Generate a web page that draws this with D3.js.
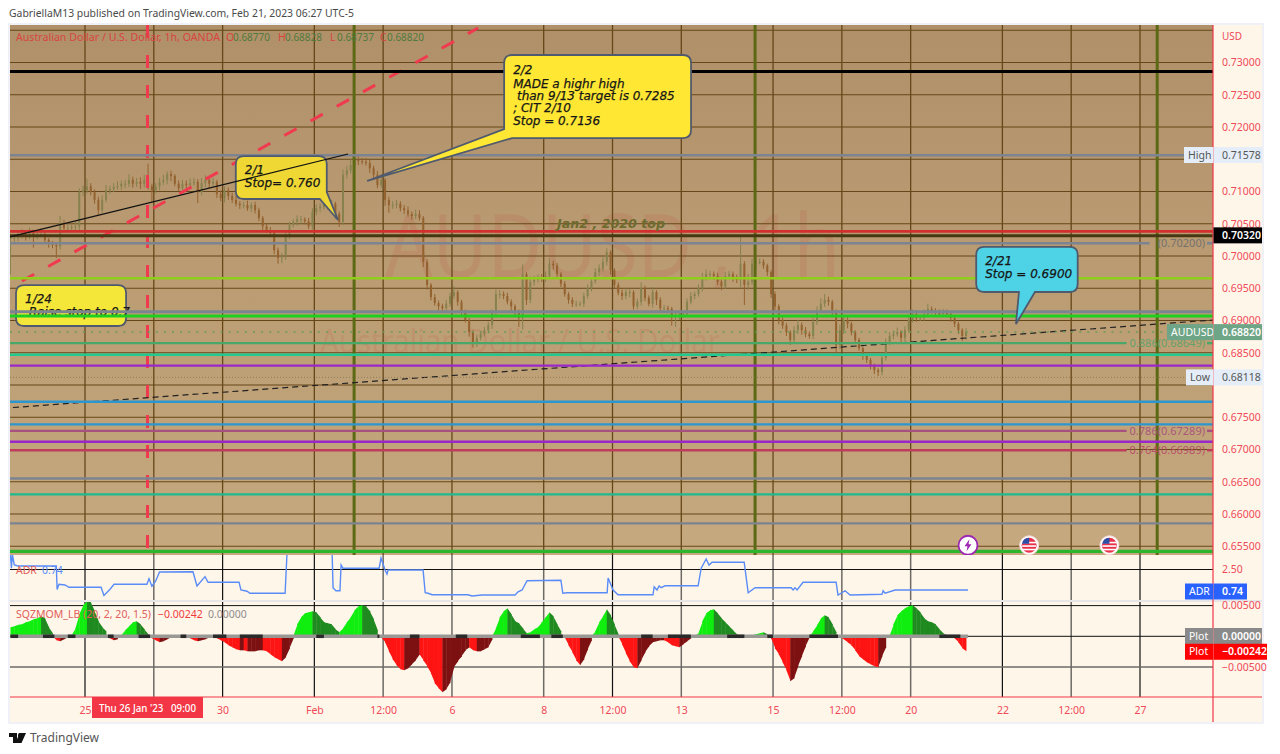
<!DOCTYPE html>
<html><head><meta charset="utf-8">
<script src="https://cdn.jsdelivr.net/npm/d3@7"></script>
<style>html,body{margin:0;padding:0;background:#fff}svg{display:block}text{font-family:"Noto Sans",sans-serif}</style>
</head><body><div id="c"></div>
<script>
// ---------- DATA ----------
const startHour=-39, stepHours=2;
const closes=[
7028,7028,7031,7033,7031,7036,7031,7033,7034,7025,
7020,7017,7015,7050,7043,7043,7045,7046,7099,7102,
7108,7099,7087,7071,7087,7102,7104,7107,7108,7112,
7112,7118,7112,7115,7112,7118,7108,7102,7108,7115,
7118,7127,7124,7112,7105,7112,7110,7113,7115,7099,
7113,7118,7112,7115,7096,7090,7102,7093,7087,7081,
7079,7079,7074,7079,7071,7059,7046,7040,7036,7009,
6997,7000,7031,7048,7053,7057,7057,7054,7046,7068,
7074,7076,7081,7077,7081,7065,7053,7126,7133,7141,
7149,7147,7146,7144,7136,7126,7110,7118,7087,7079,
7079,7081,7074,7071,7065,7062,7065,7059,6991,6955,
6936,6927,6922,6919,6926,6938,6944,6929,6913,6901,
6882,6864,6873,6879,6885,6893,6913,6941,6941,6938,
6929,6922,6913,6904,6972,6932,6960,6963,6966,6965,
6969,6988,6985,6972,6957,6941,6932,6926,6926,6926,
6938,6950,6961,6975,6981,6991,7006,6978,6955,6943,
6938,6944,6944,6922,6929,6950,6935,6926,6944,6932,
6919,6919,6918,6907,6907,6909,6910,6929,6938,6941,
6950,6966,6972,6972,6969,6960,6953,6969,6972,6966,
6963,6988,6955,6960,6988,6991,6991,6985,6975,6941,
6922,6901,6892,6882,6870,6885,6893,6885,6879,6876,
6898,6916,6926,6932,6929,6913,6862,6885,6901,6895,
6882,6870,6857,6845,6839,6829,6823,6820,6842,6867,
6876,6879,6882,6873,6885,6901,6910,6904,6904,6910,
6918,6915,6912,6910,6913,6910,6904,6895,6885,6876,
6882];
const wickUp=[
6,5,7,9,6,8,5,6,9,4,
3,3,4,12,6,7,5,8,6,7,
12,5,4,5,7,8,5,6,8,5,
6,9,5,6,7,8,25,4,5,6,
8,4,5,3,5,6,5,7,6,4,
8,7,5,6,3,6,6,4,5,6,
4,5,7,4,5,4,3,4,5,3,
4,5,6,5,4,6,5,3,5,6,
6,5,7,5,6,3,4,8,7,9,
6,8,5,6,5,4,6,9,3,5,
6,6,4,5,6,4,7,6,3,4,
3,5,4,4,6,5,9,3,3,4,
3,3,5,4,5,5,4,7,6,4,
5,4,3,4,15,3,8,6,5,6,
7,8,5,4,3,4,3,4,5,4,
5,6,5,6,6,7,6,3,3,4,
5,6,4,3,5,9,4,4,8,3,
4,5,4,3,5,4,5,5,6,4,
6,8,7,5,4,5,4,6,5,4,
5,42,4,12,8,6,5,4,3,3,
4,3,4,4,3,6,8,4,5,4,
6,6,8,9,5,3,4,9,7,5,
3,3,3,3,3,3,4,3,5,5,
6,5,7,3,6,8,7,6,5,7,
8,4,4,5,5,4,3,3,3,3,
6];
const wickDown=[
57,6,5,4,7,5,18,5,4,6,
7,5,18,5,7,4,6,5,8,6,
5,5,6,8,5,4,6,5,4,6,
7,5,6,5,8,6,5,20,5,6,
5,7,8,4,5,7,6,5,4,17,
5,6,7,4,6,5,7,6,5,4,
6,5,4,6,5,5,6,4,5,6,
9,8,6,5,4,6,7,5,4,5,
5,6,4,5,6,7,8,5,6,5,
5,6,4,4,7,6,5,4,9,12,
6,5,5,6,4,6,5,4,8,7,
5,4,6,5,4,5,4,6,5,4,
7,6,5,4,4,5,6,8,7,5,
4,7,6,14,18,8,5,6,4,5,
5,4,6,5,5,4,6,5,5,4,
5,4,5,4,6,5,6,7,5,4,
6,5,8,5,4,6,5,4,6,8,
5,4,6,15,17,6,5,4,4,5,
4,5,4,4,6,5,6,4,5,6,
5,12,31,7,5,8,4,5,6,6,
6,7,5,6,8,5,6,7,5,4,
5,5,4,5,6,8,17,6,6,7,
5,4,4,6,5,5,6,6,5,4,
5,5,4,7,5,4,4,6,5,4,
4,4,5,4,5,4,6,5,6,8,
6];
const momentum=[
147,163,187,196,228,245,277,293,326,293,
147,49,-65,-82,-49,-16,16,130,359,505,
571,554,408,245,147,82,-33,-65,-49,16,
98,163,228,245,196,114,33,-33,-65,-98,
-82,-49,-16,16,16,8,-16,-33,-65,-82,
-65,-49,-16,8,-33,-65,-98,-147,-179,-212,
-228,-228,-245,-245,-245,-228,-228,-245,-293,-342,
-375,-408,-342,-196,-33,196,310,375,391,408,
391,310,228,212,196,114,65,130,228,310,
424,489,505,489,408,277,98,-16,-98,-245,
-375,-473,-538,-554,-522,-456,-391,-293,-391,-489,
-603,-766,-848,-913,-864,-750,-505,-408,-326,-228,
-179,-228,-245,-245,-212,-179,-49,130,310,408,
456,359,245,212,130,49,65,114,147,228,
310,391,326,196,82,-16,-147,-261,-391,-473,
-375,-212,-65,82,228,326,440,342,196,33,
-130,-277,-408,-505,-522,-391,-261,-163,-98,-82,
-65,-65,-98,-147,-163,-179,-130,-82,-33,8,
49,245,375,424,440,375,293,228,163,98,
33,16,-8,-16,16,33,49,65,33,-33,
-196,-293,-424,-554,-734,-685,-489,-326,-163,-16,
82,179,293,342,310,196,65,-16,-49,-98,
-147,-228,-326,-375,-424,-456,-489,-505,-326,-179,
8,196,342,408,456,489,505,456,391,293,
245,228,196,114,49,16,-16,-33,-98,-196,
-242];
const squeezeRanges=[[-39,-35],[-22,-16],[-9,-5],[12,15],[28,34],[50,53],[67,74],[81,93],[121,125],[153,154],[170,175],[194,200],[228,238],[244,250],[291,297],[305,317],[336,345],[357,360],[379,394],[447,458]];
const adrHours=[-39,-38.5,-38,-37,-35,-15,-14.6,-13.6,-10.5,-8.4,8.4,9.9,13,15.2,32.4,33.5,35,37,39,56.5,58.6,62.8,64.4,80.6,81.6,84.8,86.3,104.7,105.7,129.3,129.8,131.3,133.4,134,135,153.9,154.9,157,158,158.6,176.9,178,179.5,181.6,200.4,202.5,207.8,225,226.6,228.7,231.3,249,250,252.2,273.2,273.7,276.3,278.9,297.2,297.8,299.3,300.4,301.4,303.5,320.8,322.4,325,326.5,328.1,344.9,347,350.6,369.5,370.5,371.5,372.6,375.7,393,394,397.7,400.3,417,417.6,418.6,423.9,462];
const adrValues=[3.7,2.6,3.7,2.86,2.78,2.78,0.9,1.32,1.26,1.08,1.08,0.42,0.9,1.32,1.32,1.77,1.16,1.58,2.3,2.32,1.18,1.93,1.48,1.48,0.86,0.76,0.6,0.6,3.8,3.8,1.02,0.8,0.8,2.86,2.6,2.6,3.42,2.46,2.14,2.46,2.46,0.64,0.6,0.48,0.48,0.38,0.46,0.46,0.72,0.86,1.6,1.64,0.6,0.64,0.64,1.82,0.86,0.48,0.48,1.12,0.86,1.18,1.04,1.2,1.2,2.6,3.34,2.86,3.08,3.08,0.64,1.04,1.04,0.86,1.04,0.86,1.48,1.48,0.46,0.8,0.46,0.52,0.8,0.6,0.86,0.86];
const levelPrices=[0.7286,0.71562,0.70383,0.70315,0.70198,0.69654,0.69136,0.6907,0.68649,0.6847,0.683,0.67741,0.6739,0.67289,0.67121,0.66989,0.6655,0.66305,0.65855,0.6542];
const levelColors=["#000","#7c8391","#d32f2f","#463812","#7c8391","#8fce1a","#7c8391","#1fcf1f","#47a86a","#1fc98f","#9a27c9","#2d96cf","#2d96cf","#a8507e","#9a27c9","#bd3d5a","#7c8391","#1fb98f","#7c8391","#2db52d"];
const levelWidths=[3,2.6,2.8,3,2.6,2.4,2.8,2.8,2.4,2.4,2.4,2.4,2.4,2.4,2.4,2.4,2.4,2.4,2.4,3.2];
const fibLevels=[0.70198,0.68649,0.67289,0.66989];
const fibLabels=["(0.70200)","0.886(0.68649)","0.786(0.67289)","0.764(0.66989)"];
const fibColors=["#6f6f6f","#5da06a","#a8507e","#b84a68"];
const priceTicks=[0.73,0.725,0.72,0.715,0.71,0.705,0.70,0.695,0.69,0.685,0.68,0.675,0.67,0.665,0.66,0.655];
const hiddenPriceTicks=[0.715,0.68];
const timeTickHours=[0,36,72,120,156,192,240,276,312,360,396,432,480,516,552];
const timeTickLabels=["25","","30","Feb","12:00","6","8","12:00","13","15","12:00","20","22","12:00","27"];
const lowerGridGrey=[36,156,192,240,312,360,396,432,516];
const cycleHours=[140.8,350.6,561];
const crossHour=32.7;
const eventHours=[462,494,536];
const priceHigh=0.71578, priceLow=0.68118, priceLast=0.6882, priceBlack=0.7032;
const trendSolid=[[-39.2,0.70295],[137.6,0.71581]];
const trendRed=[[-33,0.69612],[205.7,0.73535]];
const trendDash=[[-37.7,0.67651],[590.4,0.69008]];
const notes=[
 {h0:-36.1,h1:21.5,p0:0.6955,p1:0.68915,fill:"#f5e63a",lines:["1/24"," Raise stop to 0.7"]},
 {h0:78.9,h1:126.5,p0:0.7155,p1:0.70884,fill:"#efd834",tip:[132.4,0.70558],lines:["2/1","Stop= 0.760"]},
 {h0:219.3,h1:317.1,p0:0.73116,p1:0.71829,fill:"#ffe733",tip:[147.6,0.71163],lines:["2/2","MADE a highr high"," than 9/13 target is 0.7285","; CIT 2/10","Stop = 0.7136"]},
 {h0:466.3,h1:519.4,p0:0.7014,p1:0.69442,fill:"#4dd2e6",tip:[487.1,0.68946],lines:["2/21","Stop = 0.6900"]}
];
// ---------- SCALES ----------
const W=1280,H=754,L=10,R=1213,TOP=25,MAINB=555,ADRB=601,MOMB=697,AXB=722,RE=1262;
const x=d3.scaleLinear([0,552],[85,1140]);
const y=d3.scaleLinear([0.655,0.73],[546.25,62.5]);
const ya=d3.scaleLinear([0.74,2.5],[591.5,569.5]);
const ym=d3.scaleLinear([-0.005,0.005],[667,605.6]);
const svg=d3.select("#c").append("svg").attr("width",W).attr("height",H);
const defs=svg.append("defs");
const g=defs.append("linearGradient").attr("id","bg").attr("x1",0).attr("x2",0).attr("y1",0).attr("y2",1);
g.append("stop").attr("offset",0).attr("stop-color","#b09069");
g.append("stop").attr("offset",1).attr("stop-color","#c6a97e");
const clip=(id,a,b,c,d)=>defs.append("clipPath").attr("id",id).append("rect").attr("x",a).attr("y",b).attr("width",c-a).attr("height",d-b);
clip("cm",L,TOP,R,MAINB);clip("ca",L,MAINB,R,ADRB);clip("cs",L,ADRB,R,MOMB);
const rect=(p,a,b,c,d,f)=>p.append("rect").attr("x",a).attr("y",b).attr("width",c-a).attr("height",d-b).attr("fill",f);
const seg=(p,a,b,c,d,col,w)=>p.append("line").attr("x1",a).attr("y1",b).attr("x2",c).attr("y2",d).attr("stroke",col).attr("stroke-width",w);
const txt=(p,s,a,b,size,col,anchor)=>p.append("text").text(s).attr("x",a).attr("y",b).attr("font-size",size).attr("fill",col).attr("text-anchor",anchor||"start");
// frame
rect(svg,8,23,1264,724,"#eff1f6");
rect(svg,L,TOP,RE,AXB,"#fff6ea");
rect(svg,L,TOP,R,MAINB,"url(#bg)");
// watermark
const main=svg.append("g").attr("clip-path","url(#cm)");
txt(main,"AUDUSD , 1h",385,277,88,"rgba(190,95,75,0.2)").attr("textLength",455).attr("lengthAdjust","spacingAndGlyphs");
txt(main,"Australian Dollar / U.S. Dollar",320,353,32,"rgba(190,95,75,0.2)").attr("textLength",400).attr("lengthAdjust","spacingAndGlyphs");
// grids
const GM="#654719";
[0.735].concat(priceTicks).forEach(p=>seg(main,L,y(p),R,y(p),GM,1.1));
timeTickHours.forEach(h=>seg(main,x(h),TOP,x(h),MAINB,GM,1.3));
function drawNote(n,host){
 const a=x(n.h0),b=x(n.h1),t=y(n.p0),d=y(n.p1),r=8;
 let path;
 if(!n.tip){path=`M${a+r},${t}H${b-r}Q${b},${t} ${b},${t+r}V${d-r}Q${b},${d} ${b-r},${d}H${a+r}Q${a},${d} ${a},${d-r}V${t+r}Q${a},${t} ${a+r},${t}Z`;}
 else{
  const tx=x(n.tip[0]),ty=y(n.tip[1]);
  if(tx<a){ // tail leaves bottom-left corner
   path=`M${a+r},${t}H${b-r}Q${b},${t} ${b},${t+r}V${d-r}Q${b},${d} ${b-r},${d}H${a+8}L${tx},${ty}L${a},${d-9}V${t+r}Q${a},${t} ${a+r},${t}Z`;
  } else if(tx>b){ // tail leaves bottom-right corner
   path=`M${a+r},${t}H${b-r}Q${b},${t} ${b},${t+r}V${d-7}L${tx},${ty}L${b-7},${d}H${a+r}Q${a},${d} ${a},${d-r}V${t+r}Q${a},${t} ${a+r},${t}Z`;
  } else { // tail leaves the bottom edge
   path=`M${a+r},${t}H${b-r}Q${b},${t} ${b},${t+r}V${d-r}Q${b},${d} ${b-r},${d}H${tx+19}L${tx},${ty}L${tx+3},${d}H${a+r}Q${a},${d} ${a},${d-r}V${t+r}Q${a},${t} ${a+r},${t}Z`;
  }
 }
 host.append("path").attr("d",path).attr("fill",n.fill).attr("stroke","#505a6e").attr("stroke-width",1.8);
 const big=n.lines.length>2;
 n.lines.forEach((s,i)=>{
  const tY=big?(i==0?t+19:t+33+(i-1)*12.2):t+18+i*13;
  host.append("text").text(s).attr("xml:space","preserve").style("white-space","pre").attr("x",a+9).attr("y",tY)
   .attr("font-size",12).attr("font-style","italic").attr("fill","#161616")
   .style("font-family","'DejaVu Sans',sans-serif").style("font-weight",500)
   .attr("stroke","#161616").attr("stroke-width",0.25);
 });
}
drawNote(notes[0],main);
// candles
const candles=closes.map((c,i)=>{
 const o=i?closes[i-1]:c;
 return {h:startHour+i*stepHours,o:o/1e4,c:c/1e4,hi:(Math.max(o,c)+wickUp[i])/1e4,lo:(Math.min(o,c)-wickDown[i])/1e4};
});
const cg=main.append("g");
cg.selectAll("line").data(candles).join("line").attr("x1",d=>x(d.h)).attr("x2",d=>x(d.h)).attr("y1",d=>y(d.hi)).attr("y2",d=>y(d.lo))
 .attr("stroke",d=>d.c>=d.o?"#87824d":"#94622f").attr("stroke-width",1);
cg.selectAll("rect").data(candles).join("rect").attr("x",d=>x(d.h)-1).attr("width",2).attr("y",d=>y(Math.max(d.o,d.c))).attr("height",d=>Math.max(1,Math.abs(y(d.o)-y(d.c))))
 .attr("fill",d=>d.c>=d.o?"#87824d":"#94622f");
// vertical events
cycleHours.forEach(h=>seg(main,x(h),TOP,x(h),MAINB,"#5c6914",3));
seg(main,x(crossHour),TOP,x(crossHour),MAINB,"#f03a50",3).attr("stroke-dasharray","13 17");
const line=d3.line().x(d=>x(d[0])).y(d=>y(d[1]));
main.append("path").attr("d",line(trendRed)).attr("stroke","#f03a50").attr("stroke-width",3).attr("fill","none").attr("stroke-dasharray","14 16");
main.append("path").attr("d",line(trendDash)).attr("stroke","#222").attr("stroke-width",1.2).attr("fill","none").attr("stroke-dasharray","6 4");
// levels
const fibEnd=x(545);
levelPrices.forEach((p,i)=>{
 const k=fibLevels.indexOf(p);
 if(k<0) seg(main,L,y(p),R,y(p),levelColors[i],levelWidths[i]);
 else{
  seg(main,L,y(p),k==0?x(557):fibEnd,y(p),levelColors[i],levelWidths[i]);
  seg(main,1207,y(p),R,y(p),levelColors[i],levelWidths[i]);
 }
});
seg(main,L,y(priceLast),R,y(priceLast),"#6a9a5a",2).attr("stroke-dasharray","2 6.1").attr("opacity",.75);
seg(main,L,y(priceLow),R,y(priceLow),"#7d6a4a",1).attr("stroke-dasharray","1 2").attr("opacity",.7);
// fib labels
fibLabels.forEach((s,i)=>txt(main,s,1205,y(fibLevels[i])+4,11,fibColors[i],"end").attr("opacity",.9));
// text label
main.append("text").text("Jan2 , 2020 top").attr("x",557).attr("y",228).attr("font-size",12.5).attr("font-style","italic").attr("font-weight","bold").style("font-family","'DejaVu Sans',sans-serif").attr("fill","#6d6b2e").attr("textLength",108).attr("lengthAdjust","spacingAndGlyphs");
// notes on top
drawNote(notes[1],main);drawNote(notes[2],main);drawNote(notes[3],main);
main.append("path").attr("d",line(trendSolid)).attr("stroke","#111").attr("stroke-width",1.2).attr("fill","none");
// event icons
eventHours.forEach((h,i)=>{
 const c=main.append("g").attr("transform",`translate(${x(h)},${y(0.655)-1})`);
 c.append("circle").attr("r",9.5).attr("fill","#fff").attr("stroke",i==0?"#9c27b0":"#f2d8d8").attr("stroke-width",i==0?1.8:1);
 if(i==0){c.append("path").attr("d","M1.5,-6L-3.5,1H-0.5L-1.5,6L3.5,-1H0.5Z").attr("fill","#9c27b0");}
 else{
  c.append("circle").attr("r",7.5).attr("fill","#e8314a");
  [-3.5,0,3.5].forEach(d=>rect(c,-7,d,7,d+1.6,"#fff"));
  c.append("path").attr("d","M-7.2,-1.5A7.5,7.5 0 0 1 0,-7.5V-1.5Z").attr("fill","#2b4fa8");
 }
});
// lower panes
const ag=svg.append("g"),ms=svg.append("g");
seg(svg,L,ADRB,RE,ADRB,"#e7e5e6",2);
timeTickHours.forEach(h=>seg(ag,x(h),MAINB,x(h),MOMB,lowerGridGrey.includes(h)?"#6d6a66":"#111",lowerGridGrey.includes(h)?1.5:1.2));
seg(ag,L,ya(2.5),R,ya(2.5),"#111",1);
seg(ag,L,ym(0.005),R,ym(0.005),"#111",1);
seg(ag,L,ym(-0.005),R,ym(-0.005),"#6d6a66",1.6);
const adrLine=d3.line().x((d,i)=>x(adrHours[i])).y(d=>ya(d));
ag.append("path").attr("clip-path","url(#ca)").attr("d",adrLine(adrValues)).attr("fill","none").attr("stroke","#5a8cf7").attr("stroke-width",1.4);
// momentum histogram drawn as a filled area, one piece per hourly step
const mom=momentum.map((v,i)=>({h:startHour+i*stepHours,v:v/1e5,p:i?momentum[i-1]/1e5:v/1e5}));
const momColor=d=>d.v>=0?(d.v>=d.p?"#10ee10":"#1f8a1f"):(d.v<d.p?"#ff1414":"#7d1010");
const momArea=d3.area().x(d=>x(d.h)).y0(ym(0)).y1(d=>ym(d.v));
ms.attr("clip-path","url(#cs)").selectAll("path").data(mom.slice(1)).join("path")
 .attr("d",(d,i)=>momArea([{h:mom[i].h,v:mom[i].v*mom[i+1].v<0?0:mom[i].v},{h:d.h+0.2,v:d.v}]))
 .attr("fill",momColor);
seg(ag,L,ym(0),R,ym(0),"#111",1);
seg(ms,x(startHour),ym(0),x(462),ym(0),"#9a9895",3.5);
squeezeRanges.forEach(r=>seg(ms,x(r[0]),ym(0),x(r[1]),ym(0),"#2a2a2a",3.5));
// separators and axes
seg(svg,L,MOMB,RE,MOMB,"#f23645",1.2);
seg(svg,R,TOP,R,AXB,"#f23645",1.2);
const RED="#ee4a58";
const ax=svg.append("g").attr("transform",`translate(${R},0)`).call(d3.axisRight(y).tickValues(priceTicks.filter(p=>!hiddenPriceTicks.includes(p))).tickSize(0).tickPadding(9).tickFormat(d3.format(".5f")));
ax.select(".domain").remove();
ax.selectAll("text").attr("fill",RED).attr("font-size",10.5).style("font-family","'Noto Sans',sans-serif");
const axm=svg.append("g").attr("transform",`translate(${R},0)`).call(d3.axisRight(ym).tickValues([0.005,-0.005]).tickSize(0).tickPadding(9).tickFormat(d=>d3.format(".5f")(d).replace("-","\u2212")));
axm.select(".domain").remove();
axm.selectAll("text").attr("fill",RED).attr("font-size",10.5).style("font-family","'Noto Sans',sans-serif");
const axa=svg.append("g").attr("transform",`translate(${R},0)`).call(d3.axisRight(ya).tickValues([2.5]).tickSize(0).tickPadding(9).tickFormat(d3.format(".2f")));
axa.select(".domain").remove();
axa.selectAll("text").attr("fill",RED).attr("font-size",10.5).style("font-family","'Noto Sans',sans-serif");
const axt=svg.append("g").attr("transform",`translate(0,${MOMB})`).call(d3.axisBottom(x).tickValues(timeTickHours).tickSize(0).tickPadding(10).tickFormat((d,i)=>timeTickLabels[i]));
axt.select(".domain").remove();
axt.selectAll("text").attr("fill",RED).attr("font-size",10.5).style("font-family","'Noto Sans',sans-serif");
txt(svg,"USD",1222,40,10,RED);
// tags
function tag(p,label,val,lx,fillL,fillV,colL,colV,vx){
 const yy=p,h=16;
 if(label){rect(svg,lx,yy-h/2,R,yy+h/2,fillL);txt(svg,label,lx+4,yy+3.7,10.5,colL);}
 rect(svg,R+0.5,yy-h/2,vx,yy+h/2,fillV);
 txt(svg,val,R+9,yy+3.7,10.5,colV).attr("font-weight",colV=="#fff"?600:400);
}
tag(y(priceHigh)+0.8,"High","0.71578",1184,"#e4edf8","#e4edf8","#555","#555",1262);
tag(y(priceBlack),"", "0.70320",0,"","#000","","#fff",1262);
tag(y(priceLast),"AUDUSD","0.68820",1167,"#6fa587","#6fa587","#fff","#fff",1262);
tag(y(priceLow),"Low","0.68118",1186,"#e4edf8","#e4edf8","#555","#555",1262);
tag(ya(0.74),"ADR","0.74",1185,"#2962ff","#2962ff","#fff","#fff",1247);
tag(ym(0)-0.3,"Plot","0.00000",1185,"#8a8a8a","#8a8a8a","#fff","#fff",1262);
tag(ym(-0.00242)+0.6,"Plot","\u22120.00242",1185,"#ff0000","#ff0000","#fff","#fff",1267);
// crosshair date
rect(svg,92,MOMB,203,718,"#f23645");
txt(svg,"Thu 26 Jan '23   09:00",99,712,10.5,"#fff").attr("font-weight",500).attr("xml:space","preserve").style("white-space","pre").attr("textLength",97).attr("lengthAdjust","spacingAndGlyphs");
// titles
txt(svg,"GabriellaM13 published on TradingView.com, Feb 21, 2023 06:27 UTC-5",9,17,10.5,"#4a4a4a").attr("textLength",345).attr("lengthAdjust","spacingAndGlyphs");
const LEG="#d8453f",LV="#4f7a3c";
txt(svg,"Australian Dollar / U.S. Dollar, 1h, OANDA",16,41,10.5,LEG).attr("textLength",204).attr("lengthAdjust","spacingAndGlyphs");
[["O","0.68770",226],["H","0.68828",278],["L","0.68737",330],["C","0.68820",380]].forEach(r=>{txt(svg,r[0],r[2],41,10.5,LEG);txt(svg,r[1],r[2]+7,41,10.5,LV).attr("textLength",37).attr("lengthAdjust","spacingAndGlyphs");});
txt(svg,"ADR",16,574,10.5,"#e0605a");
txt(svg,"0.74",42,574,10.5,"#5a8cf7");
txt(svg,"SQZMOM_LB (20, 2, 20, 1.5)",16,618,10.5,"#e0605a").attr("textLength",135).attr("lengthAdjust","spacingAndGlyphs");
txt(svg,"\u22120.00242",158,618,10.5,"#ee3b3b");
txt(svg,"0.00000",208,618,10.5,"#8d8d8d");
// footer logo
const fg=svg.append("g");
fg.append("path").attr("d","M9,733H17V743H13V737H9Z M19.5,733H26L21.5,743H15.5Z").attr("fill","#111");
fg.append("circle").attr("cx",20).attr("cy",735).attr("r",2).attr("fill","#111");
txt(svg,"TradingView",30,742,12,"#555");
</script></body></html>
